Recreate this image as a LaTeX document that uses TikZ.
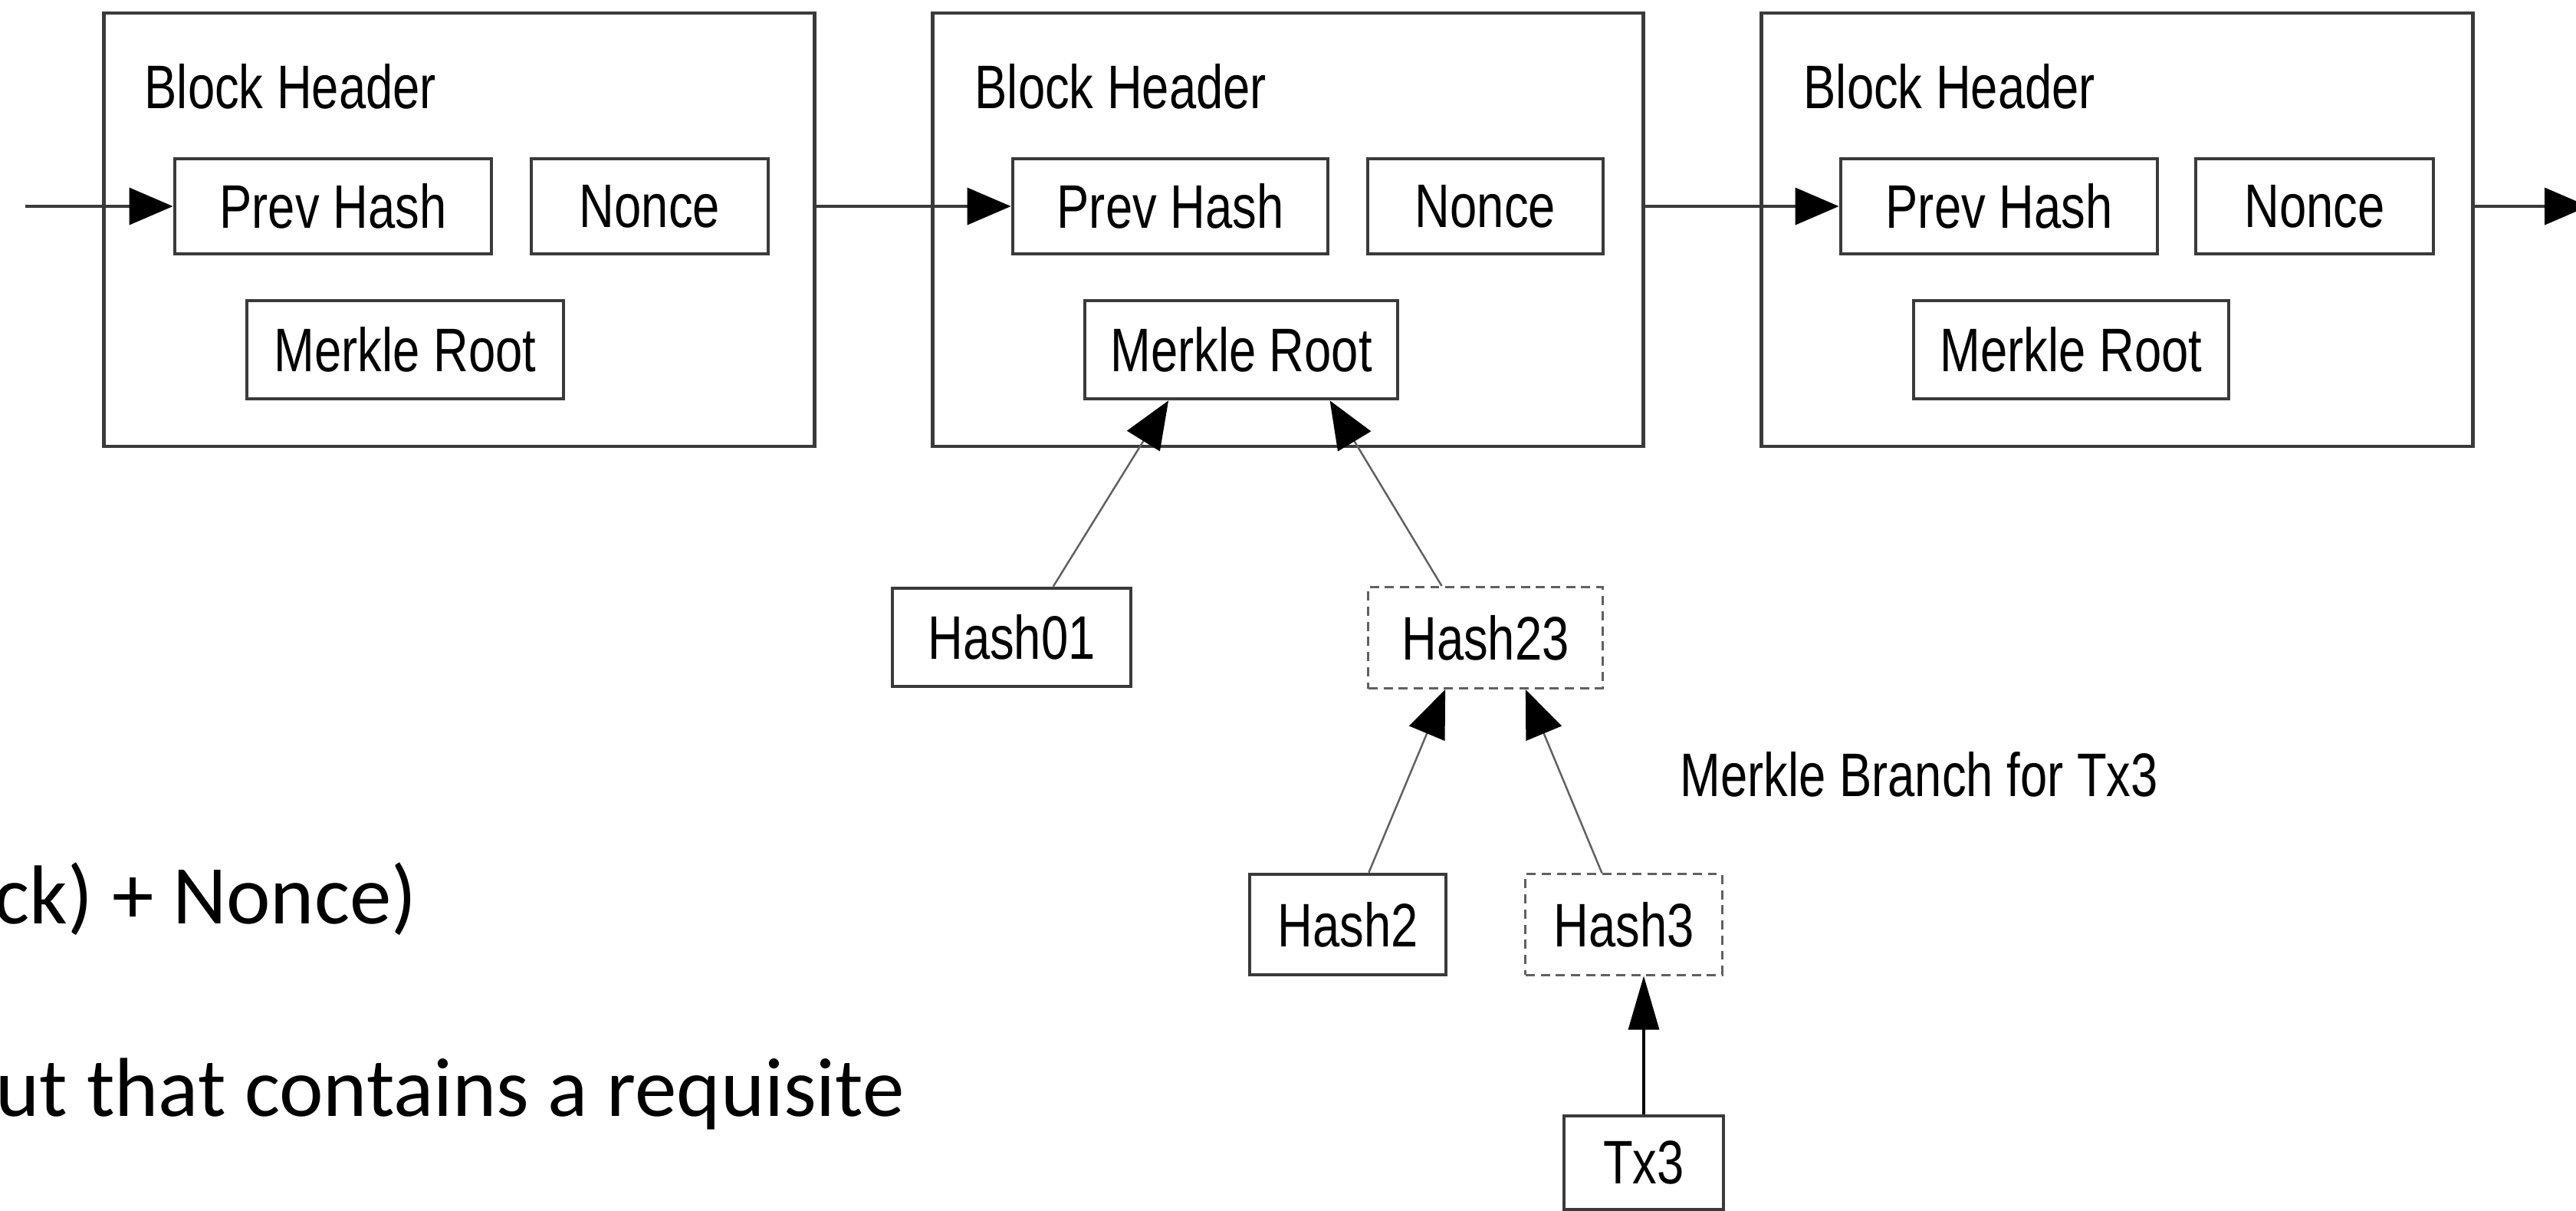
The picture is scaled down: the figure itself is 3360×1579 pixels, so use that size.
\documentclass[tikz,border=0pt]{standalone}
\usepackage{fontspec}
\usetikzlibrary{arrows.meta,calc}
\newfontfamily\hvfont[FakeStretch=0.79]{Liberation Sans}
\newfontfamily\slidefont{Carlito}
\definecolor{edge}{HTML}{3A3A3A}
\definecolor{thinedge}{HTML}{606060}
\begin{document}
\begin{tikzpicture}[x=0.01cm, y=-0.01cm,
  blockbox/.style={draw=edge, line width=1.3pt, inner sep=0pt, minimum height=5.65cm},
  field/.style={draw=edge, line width=1.3pt, inner sep=0pt, text=black,
    font=\hvfont\fontsize{22.8pt}{26pt}\selectfont, minimum height=1.24cm},
  dashfield/.style={field, draw=thinedge, line width=0.85pt, dash pattern=on 3.4pt off 2.2pt},
  label/.style={inner sep=0pt, anchor=base west, text=black,
    font=\hvfont\fontsize{22.8pt}{26pt}\selectfont},
  slidetext/.style={inner sep=0pt, anchor=base west, text=black,
    font=\slidefont\fontsize{31pt}{36pt}\selectfont},
  link/.style={draw=edge, line width=1.1pt, -{Triangle[length=0.57cm, width=0.48cm, color=black]}},
  branch/.style={draw=thinedge, line width=0.7pt, -{Triangle[length=0.62cm, width=0.5cm, color=black]}},
  uplink/.style={draw=black, line width=0.9pt, -{Triangle[length=0.7cm, width=0.4cm, color=black]}}
]
\useasboundingbox[fill=white] (0,0) rectangle (3360,1579);

% chain of three block headers
\node[blockbox, minimum width=9.26cm] (b1) at (599,299.5) {};
\node[blockbox, minimum width=9.26cm] (b2) at (1680,299.5) {};
\node[blockbox, minimum width=9.27cm] (b3) at (2761.5,299.5) {};

\node[label] (t1) at (188,142) {Block Header};
\node[label] (t2) at (1271,142) {Block Header};
\node[label] (t3) at (2352,142) {Block Header};

\node[field, minimum width=4.13cm] (ph1) at (434.5,269) {Prev Hash};
\node[field, minimum width=3.09cm] (n1) at (847.5,269) {Nonce};
\node[field, minimum width=4.13cm, minimum height=1.28cm] (mr1) at (528.5,456) {Merkle Root};

\node[field, minimum width=4.11cm] (ph2) at (1526.5,269) {Prev Hash};
\node[field, minimum width=3.07cm] (n2) at (1937.5,269) {Nonce};
\node[field, minimum width=4.08cm, minimum height=1.28cm] (mr2) at (1619,456) {Merkle Root};

\node[field, minimum width=4.13cm] (ph3) at (2607.5,269) {Prev Hash};
\node[field, minimum width=3.10cm] (n3) at (3019,269) {Nonce};
\node[field, minimum width=4.11cm, minimum height=1.28cm] (mr3) at (2701.5,456) {Merkle Root};

% links between headers
\coordinate (in) at (33,269);
\coordinate (out) at (3376,269);
\draw[link] (in) -- (ph1.west);
\draw[link] (b1.east |- ph2.west) -- (ph2.west);
\draw[link] (b2.east |- ph3.west) -- (ph3.west);
\draw[link] (b3.east |- ph3.east) -- (out);

% Merkle tree below the middle block
\node[field, minimum width=3.11cm, minimum height=1.28cm] (h01) at (1319.5,831) {Hash01};
\node[dashfield, minimum width=3.05cm, minimum height=1.32cm] (h23) at (1937.5,831.5) {Hash23};
\node[field, minimum width=2.56cm, minimum height=1.31cm] (h2) at (1758,1205.5) {Hash2};
\node[dashfield, minimum width=2.56cm, minimum height=1.31cm] (h3) at (2118,1205.5) {Hash3};
\node[field, minimum width=2.08cm, minimum height=1.22cm] (tx3) at (2144,1516) {Tx3};

\node[label] (mb) at (2191,1038) {Merkle Branch for Tx3};

\draw[branch] ($(h01.north west)!0.672!(h01.north east)$) -- ($(mr2.south west)!0.27!(mr2.south east)$);
\draw[branch] ($(h23.north west)!0.315!(h23.north east)$) -- ($(mr2.south west)!0.78!(mr2.south east)$);
\draw[branch] ($(h2.north west)!0.605!(h2.north east)$) -- ($(h23.south west)!0.33!(h23.south east)$);
\draw[branch] ($(h3.north west)!0.39!(h3.north east)$) -- ($(h23.south west)!0.67!(h23.south east)$);
\draw[uplink] (tx3.north) -- (tx3.north |- h3.south);

% slide text running in from the left
\node[slidetext] (s1) at (-8,1204) {ck) + Nonce)};
\node[slidetext] (s2) at (-6,1455) {ut that contains a requisite};
\end{tikzpicture}
\end{document}
